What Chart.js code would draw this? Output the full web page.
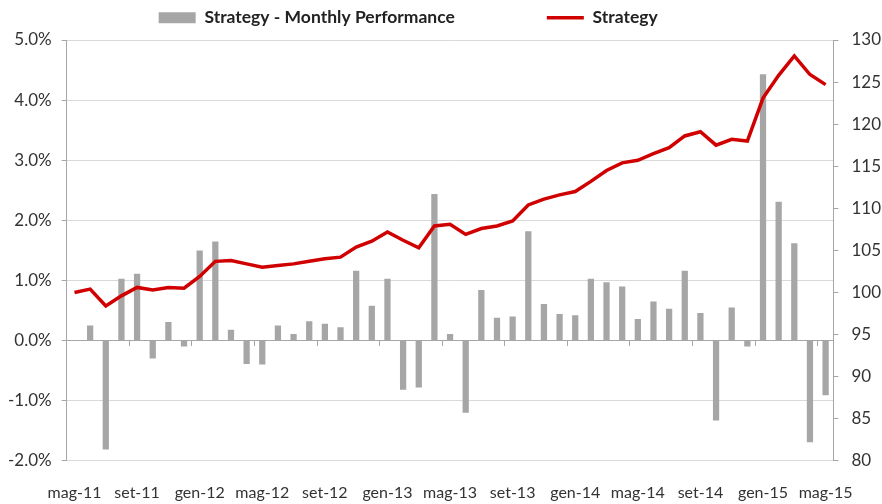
<!DOCTYPE html>
<html>
<head>
<meta charset="utf-8">
<script src="https://cdn.jsdelivr.net/npm/chart.js@4.4.1/dist/chart.umd.min.js"></script>
<style>
  html, body { margin: 0; padding: 0; background: #ffffff; }
  #c { display: block; }
</style>
</head>
<body>
<canvas id="c" width="882" height="504"></canvas>
<script>
// ---- data ----
const months = ['mag-11','giu-11','lug-11','ago-11','set-11','ott-11','nov-11','dic-11',
  'gen-12','feb-12','mar-12','apr-12','mag-12','giu-12','lug-12','ago-12','set-12','ott-12','nov-12','dic-12',
  'gen-13','feb-13','mar-13','apr-13','mag-13','giu-13','lug-13','ago-13','set-13','ott-13','nov-13','dic-13',
  'gen-14','feb-14','mar-14','apr-14','mag-14','giu-14','lug-14','ago-14','set-14','ott-14','nov-14','dic-14',
  'gen-15','feb-15','mar-15','apr-15','mag-15'];

// monthly performance, in percent
const monthlyPerf = [0, 0.25, -1.81, 1.03, 1.11, -0.30, 0.31, -0.10, 1.50, 1.65, 0.18, -0.39, -0.40, 0.25, 0.11, 0.32,
  0.28, 0.22, 1.16, 0.58, 1.03, -0.82, -0.78, 2.44, 0.11, -1.20, 0.84, 0.38, 0.40, 1.82, 0.61, 0.44, 0.42, 1.03,
  0.97, 0.90, 0.36, 0.65, 0.53, 1.16, 0.46, -1.33, 0.55, -0.10, 4.43, 2.31, 1.62, -1.69, -0.91];

// strategy index (base 100)
const strategyIndex = [100.0, 100.4, 98.4, 99.6, 100.6, 100.3, 100.6, 100.5, 101.9, 103.7, 103.8, 103.4, 103.0, 103.2,
  103.4, 103.7, 104.0, 104.2, 105.4, 106.1, 107.2, 106.2, 105.3, 107.9, 108.1, 106.9, 107.6, 107.9, 108.5, 110.4,
  111.1, 111.6, 112.0, 113.2, 114.5, 115.4, 115.7, 116.5, 117.2, 118.6, 119.1, 117.5, 118.2, 118.0, 123.1, 125.8,
  128.1, 125.9, 124.7];

const seriesNames = ['Strategy - Monthly Performance', 'Strategy'];
const leftAxisRange = [-2, 5, 1];      // min, max, step (percent)
const rightAxisRange = [80, 130, 5];   // min, max, step
const labelEvery = 4;

// ---- styling ----
const FONT = 'Lato';
const GRID = '#d9d9d9';
const AXIS = '#a6a6a6';
const BAR = '#a6a6a6';
const RED = '#d00000';
const TXT = '#333333';

const ctx = document.getElementById('c').getContext('2d');

new Chart(ctx, {
  data: {
    labels: months,
    datasets: [
      {
        type: 'bar',
        label: seriesNames[0],
        data: monthlyPerf,
        backgroundColor: BAR,
        borderWidth: 0,
        xAxisID: 'x',
        yAxisID: 'y',
        barPercentage: 0.4,
        categoryPercentage: 1,
        order: 2
      },
      {
        type: 'line',
        label: seriesNames[1],
        data: strategyIndex,
        borderColor: RED,
        backgroundColor: RED,
        borderWidth: 3.5,
        pointRadius: 0,
        tension: 0,
        xAxisID: 'x',
        yAxisID: 'y1',
        order: 1
      }
    ]
  },
  options: {
    responsive: false,
    animation: false,
    layout: { padding: { top: -83, left: -2, right: -12, bottom: -20 } },
    plugins: {
      tooltip: { enabled: false },
      legend: {
        position: 'top',
        align: 'start',
        fullSize: false,
        labels: {
          usePointStyle: true,
          pointStyleWidth: 37,
          boxHeight: 11,
          padding: 92,
          color: '#222222',
          font: { family: FONT, size: 17.5, weight: 'bold' },
          sort: (a, b) => a.datasetIndex - b.datasetIndex,
          generateLabels: (chart) => {
            const items = Chart.defaults.plugins.legend.labels.generateLabels(chart);
            items.forEach(it => {
              if (it.datasetIndex === 0) {
                it.pointStyle = 'rect';
                it.fillStyle = BAR;
                it.strokeStyle = BAR;
                it.lineWidth = 0;
              } else {
                it.pointStyle = 'line';
                it.strokeStyle = RED;
                it.fillStyle = RED;
                it.lineWidth = 3.5;
              }
            });
            return items;
          }
        }
      }
    },
    scales: {
      xTop: {
        type: 'category',
        position: 'top',
        display: true,
        grid: { display: false, drawTicks: false },
        border: { display: false },
        ticks: { display: false },
        afterFit: (s) => { s.height = 3.5; }
      },
      x: {
        type: 'category',
        position: 'bottom',
        offset: true,
        grid: { display: false, drawTicks: false },
        border: { display: false },
        ticks: {
          autoSkip: false,
          maxRotation: 0,
          minRotation: 0,
          padding: 22,
          color: TXT,
          font: { family: FONT, size: 16 },
          callback: function (v, i) { return i % labelEvery === 0 ? this.getLabelForValue(v) : ''; }
        }
      },
      xZero: {
        type: 'category',
        position: { y: 0 },
        offset: true,
        grid: {
          offset: true,
          drawOnChartArea: false,
          drawTicks: true,
          tickLength: 5,
          color: (c) => (c.index % labelEvery === 0 && c.index > 0) ? AXIS : 'rgba(0,0,0,0)'
        },
        border: { display: true, color: AXIS, width: 1 },
        ticks: { display: false }
      },
      y: {
        type: 'linear',
        position: 'left',
        min: leftAxisRange[0],
        max: leftAxisRange[1],
        grid: {
          color: (c) => (c.tick && c.tick.value === 0) ? AXIS : GRID,
          tickColor: AXIS,
          tickLength: 5,
          lineWidth: 1
        },
        border: { display: true, color: AXIS },
        ticks: {
          stepSize: leftAxisRange[2],
          padding: 10,
          color: TXT,
          font: { family: FONT, size: 17 },
          callback: (v) => v.toFixed(1) + '%'
        }
      },
      y1: {
        type: 'linear',
        position: 'right',
        min: rightAxisRange[0],
        max: rightAxisRange[1],
        grid: { drawOnChartArea: false, tickColor: AXIS, tickLength: 5 },
        border: { display: true, color: AXIS },
        ticks: {
          stepSize: rightAxisRange[2],
          padding: 13,
          color: TXT,
          font: { family: FONT, size: 17 }
        }
      }
    }
  }
});
</script>
</body>
</html>
